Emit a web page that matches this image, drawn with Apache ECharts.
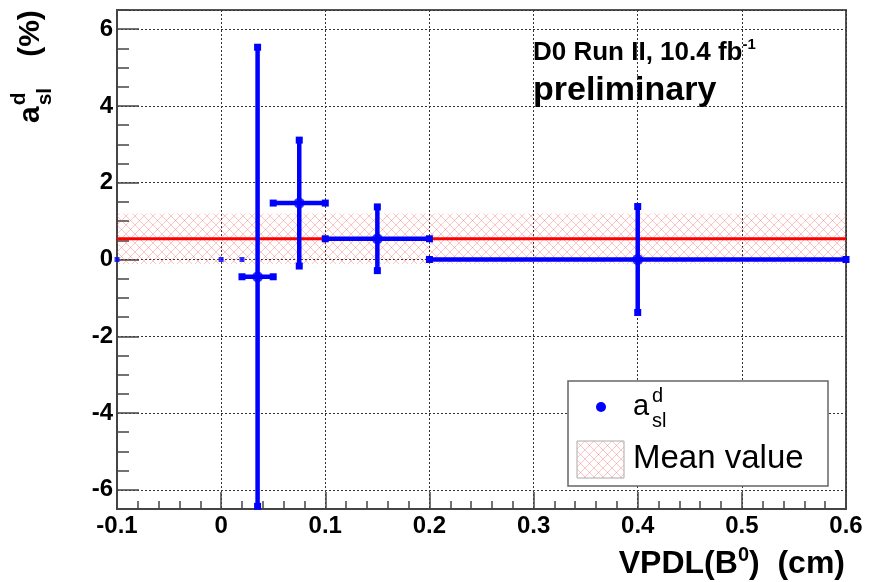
<!DOCTYPE html>
<html>
<head>
<meta charset="utf-8">
<script src="https://cdn.jsdelivr.net/npm/echarts@6/dist/echarts.min.js"></script>
<style>
html, body { margin: 0; padding: 0; background: #fff; }
#chart { width: 869px; height: 582px; }
</style>
</head>
<body>
<div id="chart"></div>
<script>
// data
var xRange = [-0.1, 0.6];
var yRange = [-6.5, 6.5];
var emptyBinX = [-0.1, 0, 0.02];
var emptyBinY = [0, 0, 0];
var binCenter = [0.035, 0.075, 0.15, 0.4];
var binLow = [0.02, 0.05, 0.1, 0.2];
var binHigh = [0.05, 0.1, 0.2, 0.6];
var aslValue = [-0.45, 1.47, 0.54, 0.0];
var aslError = [5.98, 1.64, 0.83, 1.38];
var meanValue = 0.54;
var meanError = 0.66;

var FONT = "'Liberation Sans', Arial, sans-serif";
var BLUE = '#0000ff';

// cross hatch tile for the mean band
var tile = document.createElement('canvas');
tile.width = 9; tile.height = 9;
var tc = tile.getContext('2d');
tc.strokeStyle = 'rgba(255,60,60,0.3)';
tc.lineWidth = 1;
tc.beginPath();
tc.moveTo(0, 0); tc.lineTo(9, 9);
tc.moveTo(9, 0); tc.lineTo(0, 9);
tc.stroke();
var hatch = { image: tile, repeat: 'repeat' };

var mctx = document.createElement('canvas').getContext('2d');
function textWidth(s, size, weight) {
    mctx.font = (weight || 'normal') + ' ' + size + 'px ' + FONT;
    return mctx.measureText(s).width;
}
// text placed by its baseline
function txt(x, base, s, size, weight, align) {
    return {
        type: 'text', x: x, y: base - 0.33 * size, z: 100,
        style: {
            text: s, fontSize: size, fontWeight: weight || 'normal', fontFamily: FONT,
            fill: '#000', align: align || 'left', verticalAlign: 'middle'
        }
    };
}

var errData = binCenter.map(function (c, i) {
    return [c, aslValue[i], binLow[i], binHigh[i], aslError[i]];
});
var emptyData = emptyBinX.map(function (x, i) { return [x, emptyBinY[i]]; });
var centerData = binCenter.map(function (c, i) { return [c, aslValue[i]]; });

// x title pieces
var xt1 = 'VPDL(B', xt2 = '0', xt3 = ')  (cm)';
var w1 = textWidth(xt1, 32, 'bold'), w2 = textWidth(xt2, 20, 'bold'), w3 = textWidth(xt3, 32, 'bold');
var xtStart = 845 - (w1 + w2 + w3);

// D0 label pieces
var d0 = 'D0 Run II, 10.4 fb';
var d0w = textWidth(d0, 26, 'bold');

var ytA = textWidth('a', 30, 'bold');
var ytD = Math.max(textWidth('d', 21, 'bold'), textWidth('sl', 21, 'bold'));

var graphics = [
    // y axis title, rotated
    {
        type: 'group', x: 41, y: 123, rotation: Math.PI / 2, z: 100,
        children: [
            txt(0, 0, 'a', 30, 'bold'),
            txt(ytA + 1, -15, 'd', 21, 'bold'),
            txt(ytA + 1, 11, 'sl', 21, 'bold'),
            txt(ytA + ytD + 32, 0, '(%)', 30, 'bold')
        ]
    },
    // x axis title
    txt(xtStart, 575, xt1, 32, 'bold'),
    txt(xtStart + w1, 562, xt2, 20, 'bold'),
    txt(xtStart + w1 + w2, 575, xt3, 32, 'bold'),
    // experiment label
    txt(533, 61, d0, 26, 'bold'),
    txt(533 + d0w, 50, '-1', 15, 'bold'),
    txt(533, 102, 'preliminary', 34, 'bold'),
    // legend
    {
        type: 'rect', z: 99,
        shape: { x: 568, y: 381, width: 260, height: 105 },
        style: { fill: '#fff', stroke: '#666', lineWidth: 1.5 }
    },
    {
        type: 'circle', z: 100,
        shape: { cx: 601, cy: 407, r: 5 },
        style: { fill: BLUE }
    },
    txt(633, 417, 'a', 29),
    txt(652, 403, 'd', 20),
    txt(652, 428, 'sl', 20),
    {
        type: 'rect', z: 100,
        shape: { x: 577, y: 441, width: 47, height: 37 },
        style: { fill: hatch, stroke: '#aaa', lineWidth: 1 }
    },
    txt(633, 470, 'Mean value', 33)
];

var myChart = echarts.init(document.getElementById('chart'));

var option = {
    animation: false,
    backgroundColor: '#fff',
    grid: {
        left: 117, right: 23, top: 10, bottom: 73,
        show: true, borderColor: '#555', borderWidth: 2
    },
    xAxis: {
        type: 'value', min: xRange[0], max: xRange[1], interval: 0.1,
        axisLine: { show: true, onZero: false, lineStyle: { color: '#444', width: 2 } },
        axisTick: { inside: true, length: 17, lineStyle: { color: '#444', width: 1.5 } },
        minorTick: { show: true, splitNumber: 5, length: 8, lineStyle: { color: '#444', width: 1.5 } },
        splitLine: { show: true, lineStyle: { color: '#333', width: 1, type: [2, 2] } },
        axisLabel: {
            margin: 5, color: '#000', fontSize: 24, fontWeight: 'bold', fontFamily: FONT,
            showMinLabel: true, showMaxLabel: true,
            formatter: function (v) { return String(Math.round(v * 10) / 10); }
        }
    },
    yAxis: [{
        type: 'value', min: yRange[0], max: yRange[1], splitNumber: 6,
        axisLine: { show: true, onZero: false, lineStyle: { color: '#444', width: 2 } },
        axisTick: { inside: true, length: 22, lineStyle: { color: '#444', width: 1.5 } },
        splitLine: { show: true, lineStyle: { color: '#333', width: 1, type: [2, 2] } },
        axisLabel: {
            margin: 4, color: '#000', fontSize: 24, fontWeight: 'bold', fontFamily: FONT,
            showMinLabel: false, showMaxLabel: false,
            formatter: function (v) { return (Math.round(v) === v && v % 2 === 0) ? String(v) : ''; }
        }
    }, {
        type: 'value', min: yRange[0], max: yRange[1], interval: 0.5, position: 'left',
        axisLine: { show: false, onZero: false },
        axisTick: { inside: true, length: 12, lineStyle: { color: '#444', width: 1.5 } },
        splitLine: { show: false },
        axisLabel: { show: false }
    }],
    series: [{
        name: 'Mean value band',
        type: 'custom',
        z: 1,
        silent: true,
        data: [[xRange[0], xRange[1], meanValue - meanError, meanValue + meanError]],
        renderItem: function (params, api) {
            var p0 = api.coord([api.value(0), api.value(3)]);
            var p1 = api.coord([api.value(1), api.value(2)]);
            return {
                type: 'rect',
                shape: { x: p0[0], y: p0[1], width: p1[0] - p0[0], height: p1[1] - p0[1] },
                style: { fill: hatch }
            };
        }
    }, {
        name: 'Mean value',
        type: 'line',
        z: 2,
        symbol: 'none',
        lineStyle: { color: '#ff0000', width: 3 },
        data: [[xRange[0], meanValue], [xRange[1], meanValue]]
    }, {
        name: 'asl errors',
        type: 'custom',
        z: 3,
        data: errData,
        renderItem: function (params, api) {
            var xc = api.value(0), y = api.value(1), e = api.value(4);
            var pL = api.coord([api.value(2), y]);
            var pH = api.coord([api.value(3), y]);
            var pT = api.coord([xc, y + e]);
            var pB = api.coord([xc, y - e]);
            var st = { stroke: BLUE, lineWidth: 4.5 };
            var capSt = { fill: BLUE };
            function cap(p) {
                return { type: 'rect', shape: { x: p[0] - 3.5, y: p[1] - 3.5, width: 7, height: 7 }, style: capSt };
            }
            return {
                type: 'group',
                children: [
                    { type: 'line', shape: { x1: pL[0], y1: pL[1], x2: pH[0], y2: pH[1] }, style: st },
                    { type: 'line', shape: { x1: pT[0], y1: pT[1], x2: pB[0], y2: pB[1] }, style: st },
                    cap(pL), cap(pH), cap(pT), cap(pB)
                ]
            };
        }
    }, {
        name: 'asl',
        type: 'scatter',
        z: 4,
        symbol: 'circle',
        symbolSize: 11,
        itemStyle: { color: BLUE },
        data: centerData
    }, {
        name: 'empty bins',
        type: 'scatter',
        z: 4,
        symbol: 'rect',
        symbolSize: 5,
        itemStyle: { color: BLUE },
        data: emptyData
    }],
    graphic: graphics
};

myChart.setOption(option);
</script>
</body>
</html>
